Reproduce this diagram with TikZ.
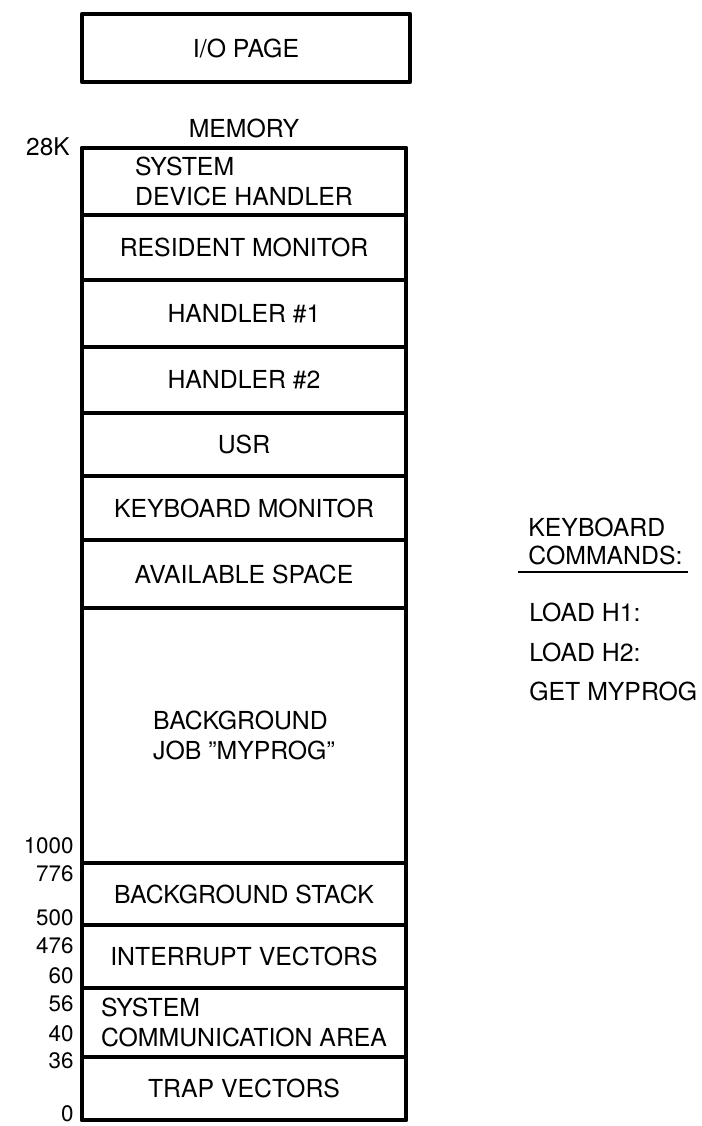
\documentclass[tikz,border=0pt]{standalone}
\usepackage{fontspec}
\setmainfont{TeX Gyre Heros}
\usetikzlibrary{positioning}

\begin{document}
\begin{tikzpicture}[x=0.5pt, y=-0.5pt, inner sep=0pt, font=\fontsize{12.4}{15}\selectfont, line join=round,
	seg/.style={draw, line width=1.6pt, minimum width=162pt, outer sep=0pt, align=left},
	addr/.style={anchor=east, font=\fontsize{11.2}{13}\selectfont}]
	\useasboundingbox (0,0) rectangle (702,1126);
	\node[draw, line width=2.2pt, minimum width=164pt, minimum height=34pt] (io) at (246,48) {I/O PAGE};
	\node (mem) at (244,128) {MEMORY};
	% memory segments, top to bottom
	\node[seg, minimum height=33.5pt, anchor=north] (sdh) at (244,148) {SYSTEM\\DEVICE HANDLER};
	\node[seg, minimum height=32.5pt, below=0pt of sdh] (rmon) {RESIDENT MONITOR};
	\node[seg, minimum height=33.5pt, below=0pt of rmon] (hdlA) {HANDLER \#1};
	\node[seg, minimum height=33pt, below=0pt of hdlA] (hdlB) {HANDLER \#2};
	\node[seg, minimum height=31.5pt, below=0pt of hdlB] (usr) {USR};
	\node[seg, minimum height=32pt, below=0pt of usr] (kmon) {KEYBOARD MONITOR};
	\node[seg, minimum height=34pt, below=0pt of kmon] (avail) {AVAILABLE SPACE};
	\node[seg, minimum height=127.5pt, below=0pt of avail] (bgjob) {BACKGROUND\\JOB ''MYPROG''};
	\node[seg, minimum height=31pt, below=0pt of bgjob] (bgstk) {BACKGROUND STACK};
	\node[seg, minimum height=31.5pt, below=0pt of bgstk] (intv) {INTERRUPT VECTORS};
	\node[seg, minimum height=34.5pt, below=0pt of intv] (sca) {SYSTEM\\COMMUNICATION AREA};
	\node[seg, minimum height=31.5pt, below=0pt of sca] (trap) {TRAP VECTORS};
	\draw[line width=2.2pt] (sdh.north west) rectangle (trap.south east);
	% addresses
	\node[addr, font=\fontsize{12.2}{14}\selectfont] (a28k) at (70,147) {28K};
	\node[addr] (a1000) at (74,846) {1000};
	\node[addr] (a776) at (74,874) {776};
	\node[addr] (a500) at (74,918) {500};
	\node[addr] (a476) at (74,946) {476};
	\node[addr] (a60) at (74,976) {60};
	\node[addr] (a56) at (74,1004) {56};
	\node[addr] (a40) at (74,1034) {40};
	\node[addr] (a36) at (74,1061) {36};
	\node[addr] (a0) at (74,1114) {0};
	% keyboard commands
	\node[anchor=west, align=left, font=\fontsize{12.4}{14}\selectfont] (kbd) at (528,541) {KEYBOARD\\COMMANDS:};
	\draw[line width=1.2pt] (518,572) -- (688,572);
	\node[anchor=west] (ldhA) at (529,612) {LOAD H1:};
	\node[anchor=west] (ldhB) at (529,652) {LOAD H2:};
	\node[anchor=west] (getp) at (529,691) {GET MYPROG};
\end{tikzpicture}
\end{document}
